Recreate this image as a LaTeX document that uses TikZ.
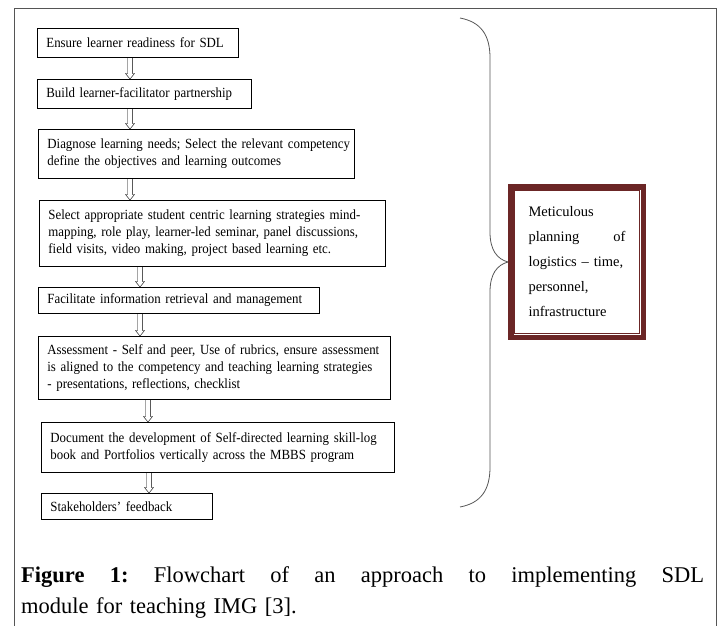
\documentclass[tikz,border=0pt]{standalone}
\usepackage{fontspec}
\setmainfont{Liberation Serif}
\newfontfamily\boxfont{Liberation Serif}[FakeStretch=0.92]
\usetikzlibrary{calc}
\definecolor{maroon}{HTML}{6B2626}
\definecolor{framegray}{HTML}{555555}
\begin{document}
\begin{tikzpicture}[x=1pt,y=-1pt,
  stepbox/.style={draw, line width=0.8pt, anchor=north west, inner xsep=9pt, inner ysep=2pt,
    align=left, font=\boxfont\fontsize{14}{17}\selectfont},
  hollow/.style={draw, line width=0.6pt, to path={let \p1=(\tikztostart), \p2=(\tikztotarget) in
    (\x1-2.3pt,\y1) -- (\x1-2.3pt,\y2+5.5pt) -- (\x1-4.5pt,\y2+5.5pt) -- (\x1,\y2)
    -- (\x1+4.5pt,\y2+5.5pt) -- (\x1+2.3pt,\y2+5.5pt) -- (\x1+2.3pt,\y1)}},
  bracestyle/.style={draw=framegray, line width=0.8pt},
  logbox/.style={draw=maroon, line width=5.5pt, outer sep=0pt, inner xsep=17.75pt, inner ysep=0pt,
    minimum height=150.5pt, text width=97pt, align=left, font=\fontsize{14.5}{25}\selectfont},
  captext/.style={anchor=north west, inner sep=0pt, align=left, text width=683pt,
    font=\fontsize{22.5}{31}\selectfont}
]
\useasboundingbox (0,0) rectangle (720,626);

% outer frame
\draw[framegray, line width=0.9pt] (14,626) -- (14,8) -- (716,8) -- (716,626);

% flow boxes
\node[stepbox, text width=183pt, minimum height=29pt] (b1) at (37,28) {\mbox{Ensure learner readiness for SDL}};
\node[stepbox, text width=196pt, minimum height=29pt] (b2) at (37,79) {\mbox{Build learner-facilitator partnership}};
\node[stepbox, text width=298pt, minimum height=49pt] (b3) at (38,129) {\mbox{Diagnose learning needs; Select the relevant competency}\\ \mbox{define the objectives and learning outcomes}};
\node[stepbox, text width=328pt, minimum height=66pt] (b4) at (39,200) {\mbox{Select appropriate student centric learning strategies mind-}\\ \mbox{mapping, role play, learner-led seminar, panel discussions,}\\ \mbox{field visits, video making, project based learning etc.}};
\node[stepbox, text width=263pt, minimum height=26pt] (b5) at (38,287) {\mbox{Facilitate information retrieval and management}};
\node[stepbox, text width=334pt, minimum height=63pt] (b6) at (38,336) {\mbox{Assessment - Self and peer, Use of rubrics, ensure assessment}\\ \mbox{is aligned to the competency and teaching learning strategies}\\ \mbox{- presentations, reflections, checklist}};
\node[stepbox, text width=335pt, minimum height=50pt] (b7) at (41,422) {\mbox{Document the development of Self-directed learning skill-log}\\ \mbox{book and Portfolios vertically across the MBBS program}};
\node[stepbox, text width=153pt, minimum height=26pt] (b8) at (41,493) {\mbox{Stakeholders’ feedback}};

% arrow x positions
\coordinate (a1) at (130,0);
\coordinate (a2) at (130,0);
\coordinate (a3) at (130,0);
\coordinate (a4) at (140,0);
\coordinate (a5) at (140,0);
\coordinate (a6) at (148,0);
\coordinate (a7) at (149,0);

\draw (b1.south -| a1) to[hollow] (b2.north);
\draw (b2.south -| a2) to[hollow] (b3.north);
\draw (b3.south -| a3) to[hollow] (b4.north);
\draw (b4.south -| a4) to[hollow] (b5.north);
\draw (b5.south -| a5) to[hollow] (b6.north);
\draw (b6.south -| a6) to[hollow] (b7.north);
\draw (b7.south -| a7) to[hollow] (b8.north);

% brace
\draw[bracestyle] (460,18) .. controls (481,22) and (490,35) .. (490,58)
  -- (490,232) .. controls (490,250) and (497,259) .. (508,262)
  .. controls (497,265) and (490,274) .. (490,292)
  -- (490,467) .. controls (490,490) and (481,503) .. (460,507);

% logistics box
\node[logbox] (m) at (577,262) {Meticulous\\ \makebox[97pt]{planning\hfill of}\\ logistics -- time,\\ personnel,\\ infrastructure};
\draw[maroon, line width=1pt] ($(m.north west)+(4.2,4.2)$) rectangle ($(m.south east)+(-4.2,-4.2)$);

% caption
\node[captext] (cap) at (21,566) {\leavevmode\hbox to 683pt{\textbf{Figure}\hfill\textbf{1:}\hfill Flowchart\hfill of\hfill an\hfill approach\hfill to\hfill implementing\hfill SDL}\\ module for teaching IMG [3].};
\end{tikzpicture}
\end{document}
